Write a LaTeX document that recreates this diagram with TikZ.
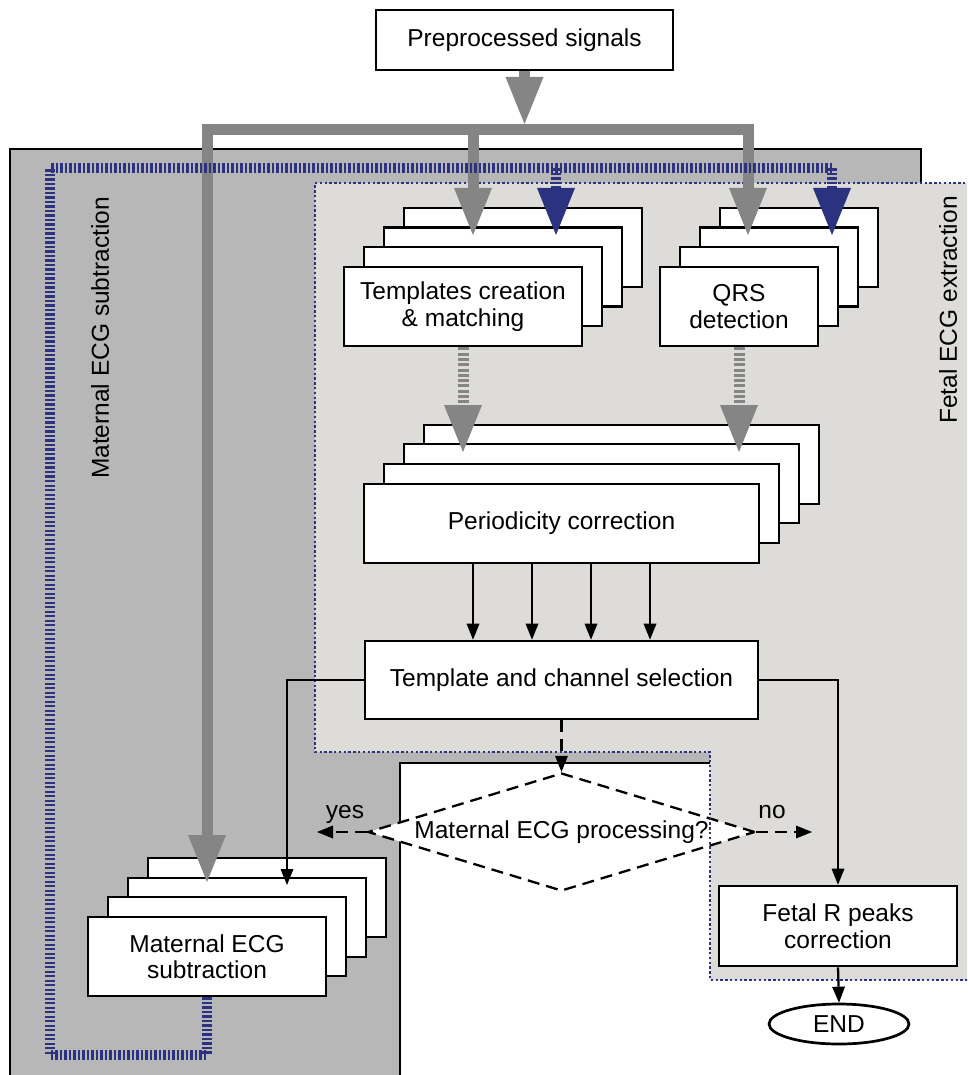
\documentclass[tikz,border=0pt]{standalone}
\usepackage{fontspec}
\setmainfont{Liberation Sans}
\usetikzlibrary{arrows.meta,shapes.geometric}
\definecolor{panelgray}{RGB}{183,183,183}
\definecolor{fetalgray}{RGB}{221,220,216}
\definecolor{arrowgray}{RGB}{133,133,133}
\definecolor{navyblue}{RGB}{43,51,128}
\begin{document}
\begin{tikzpicture}[x=1pt,y=-1pt,
  font=\fontsize{24.5}{26.5}\selectfont,
  card/.style={draw=black, line width=2.7pt, fill=white, inner sep=0pt, minimum height=79pt, align=center},
  bigtip/.style={-{Triangle[length=47pt,width=38pt,line width=0pt]}},
  gbar/.style={draw=arrowgray, line width=11pt},
  gdash/.style={draw=arrowgray, line width=11pt, dash pattern=on 3pt off 2.3pt},
  bdash/.style={draw=navyblue, line width=10pt, dash pattern=on 2.3pt off 2.2pt},
  bluetip/.style={-{Triangle[length=47pt,width=38pt,line width=0pt,color=navyblue]}},
  thinline/.style={draw=black, line width=2.3pt},
  thintip/.style={-{Triangle[length=16pt,width=13pt,line width=0pt]}},
  blackdash/.style={draw=black, line width=2.3pt, dash pattern=on 12pt off 7pt},
  edgeline/.style={draw=black, line width=2.4pt},
  dotborder/.style={draw=navyblue, line width=2.6pt, dash pattern=on 2.4pt off 2.4pt}
]
\useasboundingbox (0,0) rectangle (967,1075);
\clip (0,0) rectangle (967,1075);

% dark maternal panel
\fill[panelgray] (10,1080) -- (10,149) -- (921,149) -- (921,763) -- (400,763) -- (400,1080) -- cycle;
\draw[edgeline] (10,1080) -- (10,149) -- (921,149) -- (921,190);
% white cut-out
\fill[white] (400,763) rectangle (710,1080);
\draw[edgeline] (400,1080) -- (400,763) -- (710,763);
% fetal region fill
\fill[fetalgray] (315,183) -- (975,183) -- (975,980) -- (710,980) -- (710,752) -- (315,752) -- cycle;

% decision diamond
\node[diamond, draw=black, line width=2.3pt, dash pattern=on 12pt off 7pt, fill=white,
      inner sep=0pt, aspect=3.3, minimum width=387pt, minimum height=118pt] (dec) at (561.5,832) {Maternal ECG processing?};

% fetal region border
\draw[dotborder] (975,183) -- (315,183) -- (315,752) -- (710,752) -- (710,980) -- (975,980);

% region labels
\node[rotate=90] (labM) at (100,338) {Maternal ECG subtraction};
\node[rotate=90] (labF) at (948,310) {Fetal ECG extraction};

% start box
\node[card, minimum width=297pt, minimum height=60pt] (pre) at (524.5,40) {Preprocessed signals};

% templates stack
\node[card, minimum width=238pt] (tpl4) at (523,247.5) {};
\node[card, minimum width=238pt] (tpl3) at (503,267) {};
\node[card, minimum width=238pt] (tpl2) at (483,286.5) {};
\node[card, minimum width=238pt] (tpl1) at (463,306.5) {Templates creation\\\& matching};

% QRS stack
\node[card, minimum width=158pt] (qrs4) at (799,247.5) {};
\node[card, minimum width=158pt] (qrs3) at (779,267) {};
\node[card, minimum width=158pt] (qrs2) at (759,286.5) {};
\node[card, minimum width=158pt] (qrs1) at (739,306.5) {QRS\\detection};

% periodicity stack
\node[card, minimum width=395pt] (per4) at (621.5,464.5) {};
\node[card, minimum width=395pt] (per3) at (601.5,483.5) {};
\node[card, minimum width=395pt] (per2) at (581.5,503.5) {};
\node[card, minimum width=395pt] (per1) at (561.5,523.5) {Periodicity correction};

% selection
\node[card, minimum width=393pt, minimum height=78pt] (sel) at (561.5,680) {Template and channel selection};

% maternal subtraction stack
\node[card, minimum width=238pt] (mat4) at (267,897.5) {};
\node[card, minimum width=238pt] (mat3) at (247,917.5) {};
\node[card, minimum width=238pt] (mat2) at (227,936.5) {};
\node[card, minimum width=238pt] (mat1) at (207,956.5) {Maternal ECG\\subtraction};

% fetal R peaks
\node[card, minimum width=238pt, minimum height=80pt] (fet) at (838,926) {Fetal R peaks\\correction};
% end
\node[ellipse, draw=black, line width=2.7pt, fill=white, inner sep=0pt, minimum width=140pt, minimum height=40pt] (end) at (839,1024) {END};

% coordinates
\coordinate (barL) at (207,129.5);
\coordinate (barM) at (473,129.5);
\coordinate (barR) at (748,129.5);
\coordinate (barTop) at (524.5,124);
\coordinate (tipM) at (207,882);
\coordinate (tipT) at (473,235);
\coordinate (tipQ) at (748,235);
\coordinate (bl1) at (832,168.5);
\coordinate (bl2) at (50,168.5);
\coordinate (bl3) at (50,1055);
\coordinate (bl4) at (207,1055);
\coordinate (bm) at (556,168.5);
\coordinate (btT) at (556,235);
\coordinate (btQ) at (832,235);
\coordinate (tipP1) at (463,452);
\coordinate (tipP2) at (739,452);
\coordinate (tipML) at (287,885);
\coordinate (yesTip) at (317,832);
\coordinate (noTip) at (812,832);

% gray distribution arrows
\draw[gbar, bigtip] (pre.south) -- (barTop);
\draw[gbar, line join=miter, {Triangle[length=47pt,width=38pt,line width=0pt]}-{Triangle[length=47pt,width=38pt,line width=0pt]}] (tipM) -- (barL) -- (barR) -- (tipQ);
\draw[gbar, bigtip] (barM) -- (tipT);

% blue maternal path
\draw[bdash] (bl1) -- (bl2) -- (bl3) -- (bl4) -- (mat1.south);
\draw[bdash, bluetip] (bm) -- (btT);
\draw[bdash, bluetip] (bl1) -- (btQ);

% gray dashed arrows
\draw[gdash, bigtip] (tpl1.south) -- (tipP1);
\draw[gdash, bigtip] (qrs1.south) -- (tipP2);

% periodicity -> selection
\draw[thinline, thintip] ([xshift=-88.5pt]per1.south) -- ([xshift=-88.5pt]sel.north);
\draw[thinline, thintip] ([xshift=-29.5pt]per1.south) -- ([xshift=-29.5pt]sel.north);
\draw[thinline, thintip] ([xshift=29.5pt]per1.south) -- ([xshift=29.5pt]sel.north);
\draw[thinline, thintip] ([xshift=88.5pt]per1.south) -- ([xshift=88.5pt]sel.north);

% selection outputs
\draw[thinline, thintip] (sel.west) -| (tipML);
\draw[thinline, thintip] (sel.east) -| (fet.north);
\draw[blackdash, thintip] (sel.south) -- (dec.north);
\draw[blackdash, thintip] (dec.west) -- (yesTip);
\draw[blackdash, thintip] (dec.east) -- (noTip);
\node (yes) at (345,814) {yes};
\node (no) at (772,812) {no};

\draw[thinline, thintip] (fet.south) -- (end.north);
\end{tikzpicture}
\end{document}
